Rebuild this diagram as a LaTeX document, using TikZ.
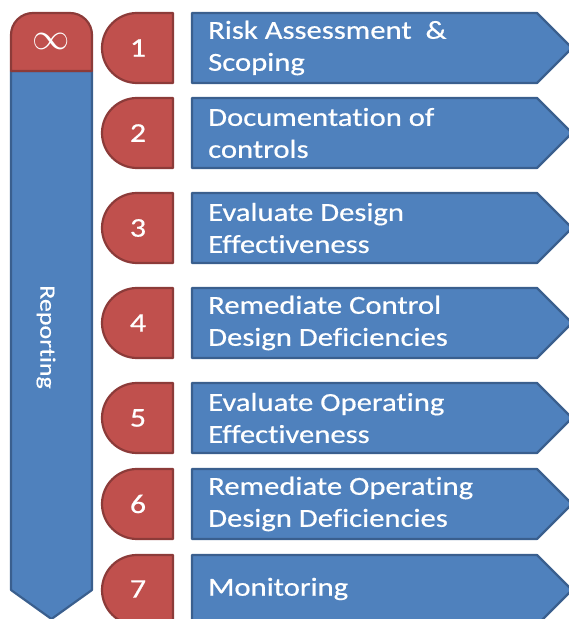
\documentclass[tikz,border=0pt]{standalone}
\usepackage{fontspec}
\newfontfamily\boxfont[FakeStretch=1.18, FakeBold=0.5, Ligatures=NoCommon]{Carlito}
\definecolor{stepblue}{HTML}{4F81BD}
\definecolor{stepblueline}{HTML}{3A5F8E}
\definecolor{stepred}{HTML}{C0504D}
\definecolor{stepredline}{HTML}{8C3B39}
\begin{document}
\begin{tikzpicture}[x=1pt, y=1pt,
    bluebox/.style={draw=stepblueline, fill=stepblue, line width=2.2pt, line join=round},
    redtab/.style={draw=stepredline, fill=stepred, line width=2.2pt, line join=round},
    steptext/.style={anchor=west, align=left, text=white, inner sep=0pt, font=\boxfont\fontsize{26}{32}\selectfont},
    stepnum/.style={text=white, inner sep=0pt, font=\boxfont\fontsize{27}{32}\selectfont}]
            \useasboundingbox (0,0) rectangle (569,619);
            \filldraw[bluebox] (11,548) -- (92,548) -- (92,29) -- (51.5,0) -- (11,29) -- cycle;
            \filldraw[redtab] (11,548) -- (11,584) arc[start angle=180, end angle=90, radius=22] -- (70,606) arc[start angle=90, end angle=0, radius=22] -- (92,548) -- cycle;
            \node[stepnum] (inf) at (51.5,578) {\scalebox{1.5}{$\infty$}};
            \node[stepnum, rotate=-90, font=\boxfont\fontsize{22}{28}\selectfont] (rep) at (46,282) {Reporting};
            \filldraw[redtab] (173,606) -- (137,606) arc[start angle=90, end angle=270, radius=35] -- (173,536) -- cycle;
            \filldraw[bluebox] (192,536) -- (192,606) -- (537,606) -- (572,571) -- (537,536) -- cycle;
            \node[stepnum] (n1) at (138,571) {1};
            \node[steptext] (s1) at (208,571) {Risk Assessment\ \ \&\\Scoping};
            \filldraw[redtab] (173,521) -- (137,521) arc[start angle=90, end angle=270, radius=35] -- (173,451) -- cycle;
            \filldraw[bluebox] (192,451) -- (192,521) -- (537,521) -- (572,486) -- (537,451) -- cycle;
            \node[stepnum] (n2) at (138,486) {2};
            \node[steptext] (s2) at (208,486) {Documentation of\\controls};
            \filldraw[redtab] (173,426) -- (137,426) arc[start angle=90, end angle=270, radius=35] -- (173,356) -- cycle;
            \filldraw[bluebox] (192,356) -- (192,426) -- (537,426) -- (572,391) -- (537,356) -- cycle;
            \node[stepnum] (n3) at (138,391) {3};
            \node[steptext] (s3) at (208,391) {Evaluate Design\\Effectiveness};
            \filldraw[redtab] (173,331) -- (137,331) arc[start angle=90, end angle=270, radius=35] -- (173,261) -- cycle;
            \filldraw[bluebox] (192,261) -- (192,331) -- (537,331) -- (572,296) -- (537,261) -- cycle;
            \node[stepnum] (n4) at (138,296) {4};
            \node[steptext] (s4) at (208,296) {Remediate Control\\Design Deficiencies};
            \filldraw[redtab] (173,236) -- (137,236) arc[start angle=90, end angle=270, radius=35] -- (173,166) -- cycle;
            \filldraw[bluebox] (192,166) -- (192,236) -- (537,236) -- (572,201) -- (537,166) -- cycle;
            \node[stepnum] (n5) at (138,201) {5};
            \node[steptext] (s5) at (208,201) {Evaluate Operating\\Effectiveness};
            \filldraw[redtab] (173,150) -- (137,150) arc[start angle=90, end angle=270, radius=35] -- (173,80) -- cycle;
            \filldraw[bluebox] (192,80) -- (192,150) -- (537,150) -- (572,115) -- (537,80) -- cycle;
            \node[stepnum] (n6) at (138,115) {6};
            \node[steptext] (s6) at (208,115) {Remediate Operating\\Design Deficiencies};
            \filldraw[redtab] (173,64) -- (137,64) arc[start angle=90, end angle=270, radius=35] -- (173,-6) -- cycle;
            \filldraw[bluebox] (192,-6) -- (192,64) -- (537,64) -- (572,29) -- (537,-6) -- cycle;
            \node[stepnum] (n7) at (138,30) {7};
            \node[steptext] (s7) at (208,30) {Monitoring};
        \end{tikzpicture}
\end{document}
